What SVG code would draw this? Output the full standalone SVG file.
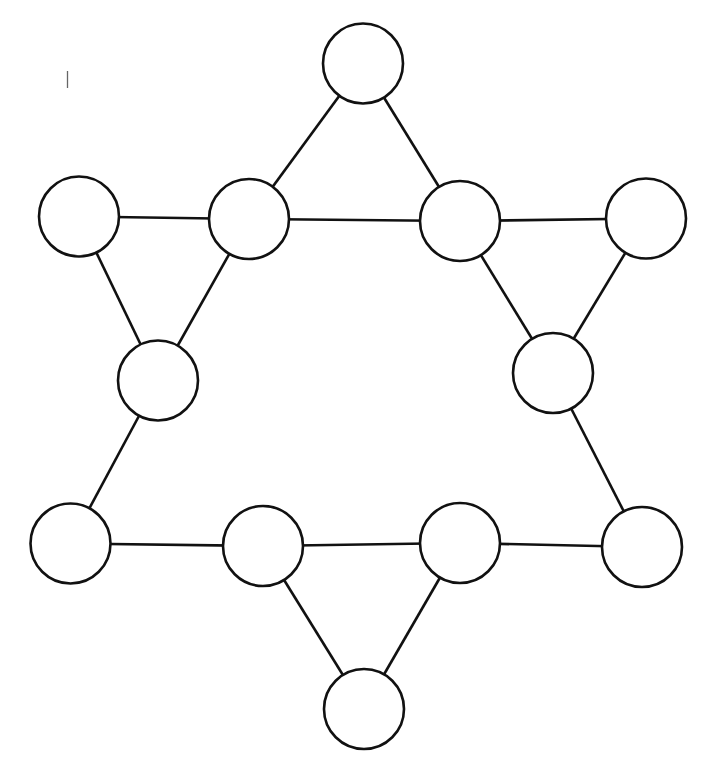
<svg xmlns="http://www.w3.org/2000/svg" width="720" height="769" viewBox="0 0 720 769">
<style>
.node{fill:#fff;stroke:#111;stroke-width:2.6}
.edge{stroke:#111;stroke-width:2.6;fill:none}
</style>
<rect width="720" height="769" fill="#fff"/>
<line x1="67.5" y1="71" x2="67.5" y2="88" stroke="#666" stroke-width="1.3"/>
<g id="connectors">
<line class="edge" x1="363" y1="63.5" x2="249" y2="219"/>
<line class="edge" x1="363" y1="63.5" x2="460" y2="221"/>
<line class="edge" x1="79" y1="216.5" x2="249" y2="219"/>
<line class="edge" x1="249" y1="219" x2="460" y2="221"/>
<line class="edge" x1="460" y1="221" x2="646" y2="218.5"/>
<line class="edge" x1="79" y1="216.5" x2="158" y2="380.5"/>
<line class="edge" x1="249" y1="219" x2="158" y2="380.5"/>
<line class="edge" x1="460" y1="221" x2="553" y2="373"/>
<line class="edge" x1="646" y1="218.5" x2="553" y2="373"/>
<line class="edge" x1="158" y1="380.5" x2="70.5" y2="543.5"/>
<line class="edge" x1="553" y1="373" x2="642" y2="547"/>
<line class="edge" x1="70.5" y1="543.5" x2="263" y2="546"/>
<line class="edge" x1="263" y1="546" x2="460" y2="543"/>
<line class="edge" x1="460" y1="543" x2="642" y2="547"/>
<line class="edge" x1="263" y1="546" x2="364" y2="709"/>
<line class="edge" x1="460" y1="543" x2="364" y2="709"/>
</g>
<g id="n1"><circle class="node" cx="363" cy="63.5" r="40"/></g>
<g id="n2"><circle class="node" cx="79" cy="216.5" r="40"/></g>
<g id="n3"><circle class="node" cx="249" cy="219" r="40"/></g>
<g id="n4"><circle class="node" cx="460" cy="221" r="40"/></g>
<g id="n5"><circle class="node" cx="646" cy="218.5" r="40"/></g>
<g id="n6"><circle class="node" cx="158" cy="380.5" r="40"/></g>
<g id="n7"><circle class="node" cx="553" cy="373" r="40"/></g>
<g id="n8"><circle class="node" cx="70.5" cy="543.5" r="40"/></g>
<g id="n9"><circle class="node" cx="263" cy="546" r="40"/></g>
<g id="n10"><circle class="node" cx="460" cy="543" r="40"/></g>
<g id="n11"><circle class="node" cx="642" cy="547" r="40"/></g>
<g id="n12"><circle class="node" cx="364" cy="709" r="40"/></g>
</svg>
